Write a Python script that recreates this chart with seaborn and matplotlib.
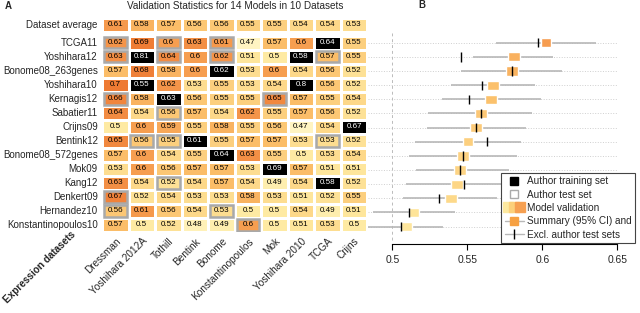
import numpy as np
import pandas as pd
import matplotlib
matplotlib.use("Agg")
import matplotlib.pyplot as plt
import seaborn as sns
from matplotlib.colors import LinearSegmentedColormap
from matplotlib.patches import Rectangle
from matplotlib.lines import Line2D
from matplotlib.legend_handler import HandlerTuple

# Datasets (columns) and models (rows)
datasets = ["Dressman", "Yoshihara 2012A", "Tothill", "Bentink", "Bonome",
            "Konstantinopoulos", "Mok", "Yoshihara 2010", "TCGA", "Crijns"]
models = ["TCGA11", "Yoshihara12", "Bonome08_263genes", "Yoshihara10", "Kernagis12",
          "Sabatier11", "Crijns09", "Bentink12", "Bonome08_572genes", "Mok09",
          "Kang12", "Denkert09", "Hernandez10", "Konstantinopoulos10"]

dataset_avg = [0.61, 0.58, 0.57, 0.56, 0.56, 0.55, 0.55, 0.54, 0.54, 0.53]

validation = [
    [0.62, 0.69, 0.60, 0.63, 0.61, 0.47, 0.57, 0.60, 0.64, 0.55],
    [0.63, 0.81, 0.64, 0.60, 0.62, 0.51, 0.50, 0.58, 0.57, 0.55],
    [0.57, 0.68, 0.58, 0.60, 0.62, 0.53, 0.60, 0.54, 0.56, 0.52],
    [0.70, 0.55, 0.62, 0.53, 0.55, 0.53, 0.54, 0.80, 0.56, 0.52],
    [0.66, 0.58, 0.63, 0.56, 0.55, 0.55, 0.65, 0.57, 0.55, 0.54],
    [0.64, 0.54, 0.56, 0.57, 0.54, 0.62, 0.55, 0.57, 0.56, 0.52],
    [0.50, 0.60, 0.59, 0.55, 0.58, 0.55, 0.56, 0.47, 0.54, 0.67],
    [0.65, 0.56, 0.55, 0.61, 0.55, 0.57, 0.57, 0.53, 0.53, 0.52],
    [0.57, 0.60, 0.54, 0.55, 0.64, 0.63, 0.55, 0.50, 0.53, 0.54],
    [0.53, 0.60, 0.56, 0.57, 0.57, 0.53, 0.69, 0.57, 0.51, 0.51],
    [0.63, 0.54, 0.52, 0.54, 0.57, 0.54, 0.49, 0.54, 0.58, 0.52],
    [0.67, 0.52, 0.54, 0.53, 0.53, 0.58, 0.53, 0.51, 0.52, 0.55],
    [0.56, 0.61, 0.56, 0.54, 0.53, 0.50, 0.50, 0.54, 0.49, 0.51],
    [0.57, 0.50, 0.52, 0.48, 0.49, 0.60, 0.50, 0.51, 0.53, 0.50],
]

# (model, dataset) pairs
author_training = [("TCGA11", "TCGA"), ("Yoshihara12", "Yoshihara 2012A"),
                   ("Yoshihara12", "Yoshihara 2010"), ("Bonome08_263genes", "Bonome"),
                   ("Yoshihara10", "Yoshihara 2012A"), ("Yoshihara10", "Yoshihara 2010"),
                   ("Kernagis12", "Tothill"), ("Crijns09", "Crijns"),
                   ("Bentink12", "Bentink"), ("Bonome08_572genes", "Bonome"),
                   ("Mok09", "Mok"), ("Kang12", "TCGA")]
author_test = [("TCGA11", "Dressman"), ("TCGA11", "Tothill"), ("TCGA11", "Bonome"),
               ("Yoshihara12", "Dressman"), ("Yoshihara12", "Tothill"),
               ("Yoshihara12", "Bonome"), ("Yoshihara12", "TCGA"),
               ("Kernagis12", "Dressman"), ("Kernagis12", "Mok"),
               ("Sabatier11", "Tothill"), ("Bentink12", "Yoshihara 2012A"),
               ("Bentink12", "Tothill"), ("Bentink12", "TCGA"), ("Kang12", "Tothill"),
               ("Denkert09", "Dressman"), ("Hernandez10", "Dressman"),
               ("Hernandez10", "Bonome"), ("Konstantinopoulos10", "Konstantinopoulos")]

# Panel B summary per model
summary_lo = [0.599, 0.577, 0.576, 0.563, 0.562, 0.555, 0.552, 0.547, 0.543, 0.541, 0.539, 0.535, 0.511, 0.506]
summary_hi = [0.606, 0.585, 0.584, 0.571, 0.570, 0.563, 0.560, 0.554, 0.551, 0.549, 0.547, 0.543, 0.518, 0.513]
range_lo = [0.569, 0.554, 0.546, 0.539, 0.533, 0.524, 0.523, 0.515, 0.511, 0.516, 0.509, 0.507, 0.487, 0.483]
range_hi = [0.636, 0.607, 0.613, 0.595, 0.599, 0.593, 0.589, 0.586, 0.583, 0.578, 0.575, 0.570, 0.542, 0.534]
excl_test = [0.597, 0.546, 0.580, 0.560, 0.551, 0.559, 0.556, 0.563, 0.547, 0.545, 0.548, 0.531, 0.511, 0.506]

sns.set_theme(style="white")
plt.rcParams['font.family'] = ['Liberation Sans', 'DejaVu Sans']

cmap = LinearSegmentedColormap.from_list("valid", [
    (0.00, "#fff7cc"), (0.17, "#feeaa2"), (0.33, "#fdd98a"), (0.46, "#fbbd68"),
    (0.58, "#f69e50"), (0.75, "#f28b42"), (1.00, "#ee7a33")])
vmin, vmax = 0.46, 0.70

def fmt(v):
    return f"{v:g}"

val_df = pd.DataFrame(validation, index=models, columns=datasets)
avg_df = pd.DataFrame([dataset_avg], index=["Dataset average"], columns=datasets)

fig = plt.figure(figsize=(6.4, 3.13), dpi=100)
W, H = 640, 313
ax_avg = fig.add_axes([102 / W, 1 - 32 / H, 265.3 / W, 14 / H])
ax_hm = fig.add_axes([102 / W, 1 - 232 / H, 265.3 / W, 196.3 / H])
ax_b = fig.add_axes([368 / W, 1 - 244.3 / H, 250 / W, 211.3 / H])

cell_fs = 5.8
label_fs = 7.0
annot_kws = {"fontsize": cell_fs, "color": "black"}

# dataset average row
sns.heatmap(avg_df, ax=ax_avg, cmap=cmap, vmin=vmin, vmax=vmax, cbar=False,
            annot=avg_df.map(fmt).values, fmt="", annot_kws=annot_kws,
            linewidths=1, linecolor="white", xticklabels=False, yticklabels=True)
ax_avg.set_yticklabels(ax_avg.get_yticklabels(), rotation=0, fontsize=label_fs)
ax_avg.tick_params(length=0, pad=3)
ax_avg.set_ylabel("")

# main validation heatmap
sns.heatmap(val_df, ax=ax_hm, cmap=cmap, vmin=vmin, vmax=vmax, cbar=False,
            annot=val_df.map(fmt).values, fmt="", annot_kws=annot_kws,
            linewidths=1, linecolor="white", xticklabels=True, yticklabels=True)

train_mask = pd.DataFrame(True, index=models, columns=datasets)
for m, d in author_training:
    train_mask.loc[m, d] = False
sns.heatmap(val_df, ax=ax_hm, mask=train_mask,
            cmap=LinearSegmentedColormap.from_list("k", ["black", "black"]),
            cbar=False, annot=val_df.map(fmt).values, fmt="",
            annot_kws={"fontsize": cell_fs, "color": "white"},
            linewidths=1, linecolor="white", xticklabels=True, yticklabels=True)

for m, d in author_test:
    i, j = models.index(m), datasets.index(d)
    ax_hm.add_patch(Rectangle((j + 0.07, i + 0.09), 0.86, 0.82, fill=False,
                              edgecolor="#a9a9a9", lw=1.8, zorder=2))

ax_hm.set_yticklabels(models, rotation=0, fontsize=label_fs)
ax_hm.set_xticklabels(datasets, rotation=45, ha="right", rotation_mode="anchor", fontsize=7.2)
ax_hm.tick_params(length=0, pad=3)
ax_hm.set_xlabel("")
ax_hm.set_ylabel("")

# panel B
y = np.arange(len(models))
lo = np.array(summary_lo)
hi = np.array(summary_hi)
box_colors = [cmap((v - vmin) / (vmax - vmin)) for v in (lo + hi) / 2]
ax_b.hlines(y, range_lo, range_hi, color="#b8b8b8", lw=1.2, zorder=2)
ax_b.barh(y, hi - lo, left=lo, height=0.65, color=box_colors, zorder=3)
ax_b.vlines(excl_test, y - 0.33, y + 0.33, color="black", lw=1, zorder=4)
ax_b.axvline(0.5, ymin=0.02, ymax=1, ls=(0, (3, 3)), color="#bbbbbb", lw=0.7, zorder=1)

ax_b.set_xlim(0.4838, 0.6505)
ax_b.set_ylim(14.25, -0.69)
ax_b.set_yticks(y)
ax_b.set_yticklabels([])
ax_b.grid(axis="y", ls=":", color="#cfcfcf", lw=0.7)
ax_b.grid(axis="x", visible=False)
ax_b.tick_params(axis="y", length=0)
for s in ["left", "top", "right"]:
    ax_b.spines[s].set_visible(False)
ax_b.spines["bottom"].set_bounds(0.5, 0.65)
ax_b.spines["bottom"].set_color("black")
ax_b.spines["bottom"].set_linewidth(0.8)
ax_b.set_xticks([0.5, 0.55, 0.6, 0.65])
ax_b.set_xticklabels(["0.5", "0.55", "0.6", "0.65"], fontsize=7.4)
ax_b.tick_params(axis="x", direction="out", length=4, width=0.8, color="black", pad=4, bottom=True)
ax_b.set_facecolor("none")

# legend
h_train = Line2D([], [], marker="s", ls="none", markerfacecolor="black", markeredgecolor="black", markersize=5.5)
h_test = Line2D([], [], marker="s", ls="none", markerfacecolor="white", markeredgecolor="#aaaaaa", markersize=5.5)
h_valid = tuple(Line2D([], [], marker="s", ls="none", markerfacecolor=c, markeredgecolor=c, markersize=7)
                for c in ["#fde9a0", "#fcd07a", "#f6a052"])
h_summ = (Line2D([], [], color="#b8b8b8", lw=1),
          Line2D([], [], marker="s", ls="none", markerfacecolor="#f6a042", markeredgecolor="#f6a042", markersize=6))
h_excl = (Line2D([], [], color="#b8b8b8", lw=1),
          Line2D([], [], marker="|", ls="none", color="black", markersize=7, markeredgewidth=1))
leg = fig.legend([h_train, h_test, h_valid, h_summ, h_excl],
                 ["Author training set", "Author test set", "Model validation",
                  "Summary (95% CI) and", "Excl. author test sets"],
                 loc="lower left", bbox_to_anchor=(501 / W, 1 - 243 / H),
                 fontsize=7.2, handlelength=1.9, handletextpad=0.35, borderpad=0.35,
                 borderaxespad=0, labelspacing=0.33, fancybox=False, framealpha=1,
                 edgecolor="#444444",
                 handler_map={h_valid: HandlerTuple(ndivide=None, pad=0),
                              h_summ: HandlerTuple(ndivide=1),
                              h_excl: HandlerTuple(ndivide=1)})
leg.get_frame().set_linewidth(0.8)

# titles and labels
fig.text(235.5 / W, 1 - 6 / H, "Validation Statistics for 14 Models in 10 Datasets",
         ha="center", va="center", fontsize=7.2)
fig.text(8 / W, 1 - 6 / H, "A", ha="center", va="center", fontsize=7, fontweight="bold")
fig.text(422 / W, 1 - 5 / H, "B", ha="center", va="center", fontsize=7, fontweight="bold")
fig.text(8 / W, 1 - 304 / H, "Expression datasets", rotation=45, rotation_mode="anchor",
         ha="left", va="baseline", fontsize=7.2, fontweight="bold")

fig.savefig("out.png", dpi=100)
